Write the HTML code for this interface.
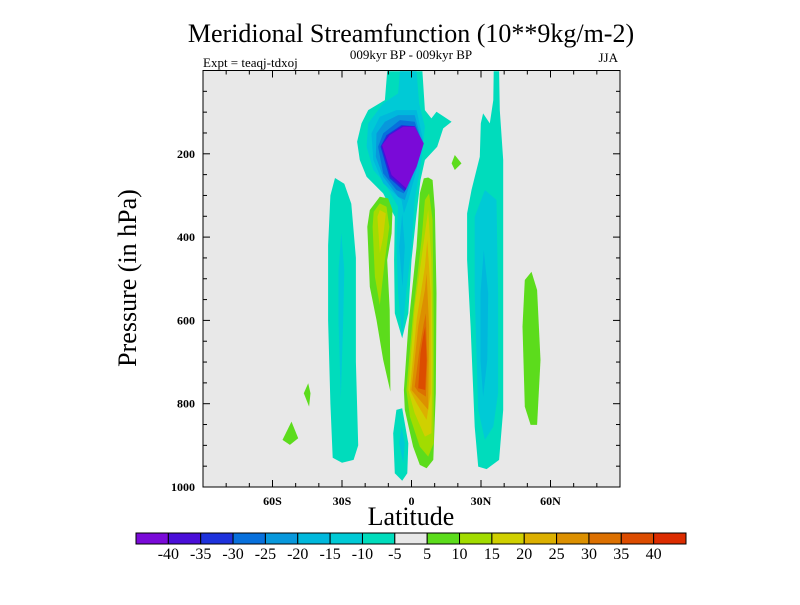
<!DOCTYPE html>
<html><head><meta charset="utf-8"><style>
body{margin:0;background:#fff;width:800px;height:600px;overflow:hidden}
svg text{font-family:"Liberation Serif",serif}
</style></head><body>
<svg id="chart" width="800" height="600" xmlns="http://www.w3.org/2000/svg">
<text x="411" y="42" font-size="26" text-anchor="middle">Meridional Streamfunction (10**9kg/m-2)</text>
<text x="411" y="59" font-size="13" text-anchor="middle">009kyr BP - 009kyr BP</text>
<text x="203" y="67" font-size="13">Expt = teaqj-tdxoj</text>
<text x="618" y="62" font-size="13" text-anchor="end">JJA</text>
<text transform="translate(136,278) rotate(-90)" font-size="26" text-anchor="middle">Pressure (in hPa)</text>
<text x="411" y="525" font-size="26" text-anchor="middle">Latitude</text>
<g id="plot"></g>
<g id="cbar"></g>
</svg>
<script>
const colors=["#7a0ad8","#4a0ed8","#1e32dc","#0870dc","#0898dc","#00b8dc","#00cad6","#00dcbc","#e8e8e8","#5cdc1c","#a2dc00","#d0d000","#dcb000","#dc9000","#dc7000","#dc4c00","#dc2c00"];
const cbarLabels=["-40","-35","-30","-25","-20","-15","-10","-5","5","10","15","20","25","30","35","40"];
const xTicks=[-60,-30,0,30,60];
const xTickLabels=["60S","30S","0","30N","60N"];
const yTicks=[200,400,600,800,1000];
// contour regions: level index into colors, points [lat, pressure]
const levels=[7,6, 7,6,5,5,4,3,2,1,0, 9,10,11, 9,10,11,12,13,14,15, 7,6, 7,6,5, 9,9,9,9];
const shapes=[
[[-33,258],[-29,272],[-26,320],[-24,450],[-24,700],[-23,900],[-25,935],[-30,942],[-34,930],[-35,800],[-36,600],[-36,420],[-35,300]],
[[-30.3,390],[-29,480],[-29.5,600],[-30.5,790],[-31.5,600],[-31.5,480]],
[[-10.5,2],[4.7,2],[5.8,95],[8.6,115],[10.8,99],[17.3,123],[13.7,139],[11.1,183],[5.8,215],[3.9,263],[2.2,343],[0,455],[-1.4,583],[-4,643],[-7.2,583],[-7.5,455],[-7.2,351],[-12.2,295],[-19.4,255],[-22.3,215],[-23.5,171],[-21.6,127],[-18.7,95],[-11.5,71]],
[[-5,2],[2.2,2],[3.3,79],[5.8,135],[4.3,215],[1.4,311],[0,423],[-2.2,527],[-4,639],[-5.8,535],[-6.5,415],[-5.8,327],[-11.5,271],[-16.5,239],[-19.4,183],[-18.7,127],[-12.2,79],[-5.8,55]],
[[-6.5,95],[2.2,95],[5,167],[2.2,239],[-1.4,311],[-3.3,343],[-4.3,311],[-12.2,271],[-16.5,215],[-17.3,151],[-13.7,111]],
[[-4,343],[-2.9,423],[-3.9,519],[-5.3,423]],
[[-5.8,107],[1.4,107],[4.3,167],[0.7,247],[-2.9,311],[-5.8,303],[-12.2,255],[-15.4,207],[-15.1,151],[-11.5,123]],
[[-5,119],[1.4,123],[4.3,171],[0.7,239],[-3.3,295],[-6.5,287],[-12.2,247],[-14.4,183],[-12.2,151]],
[[-4.3,131],[1.4,134],[5,175],[1.4,231],[-2.9,291],[-9.4,259],[-13.4,183],[-10.8,155]],
[[-3.8,133],[1.4,134],[5.2,175],[1.8,231],[-2.5,287],[-9,255],[-13,181],[-10,155]],
[[-3.6,135],[1.4,135],[5.3,175],[2.2,231],[-2.2,283],[-8.6,251],[-12.7,179],[-9.4,155]],
[[-13.7,303],[-10.1,307],[-8.2,335],[-8.6,391],[-10.5,455],[-9.4,575],[-9.1,771],[-12.2,695],[-15.1,599],[-18,519],[-19.1,375],[-18,335]],
[[-13.7,319],[-10.8,327],[-9.6,375],[-11.5,455],[-13.7,563],[-15.8,495],[-16.8,375],[-16.3,339]],
[[-13.7,335],[-11.1,343],[-12.2,399],[-13.7,439],[-14.4,375],[-14.7,351]],
[[7.2,257],[9.1,263],[10.1,335],[10.8,535],[10.5,775],[9.4,935],[6.5,955],[3.6,947],[0.7,903],[-2.9,815],[-3.3,767],[-1.4,615],[2.2,423],[3.6,295],[5.3,259]],
[[7.6,295],[9.1,359],[9.6,615],[9.6,895],[7.2,927],[3.6,903],[-0.7,831],[-2.2,767],[0.7,583],[4.3,407],[5.8,311]],
[[7.2,335],[8.6,455],[9.1,695],[8.6,871],[5.8,879],[1.4,823],[-1.4,767],[1.4,567],[5,423]],
[[6.8,407],[8.3,535],[8.3,775],[6.5,839],[2.2,799],[-0.7,767],[2.2,599],[5.8,471]],
[[6.5,487],[7.6,615],[7.2,815],[3.6,791],[0,767],[2.9,615],[5.8,527]],
[[6.2,583],[6.8,695],[6.2,783],[2.9,771],[1.4,759],[3.6,663],[5.3,607]],
[[5.9,615],[6.5,695],[5.9,767],[2.9,763],[3.9,679],[5,639]],
[[-6.5,815],[-4,811],[-1.4,895],[-1.8,967],[-4,985],[-7.2,967],[-7.9,871]],
[[-4.3,855],[-2.9,895],[-3.6,943],[-5.3,895]],
[[35.5,2],[37.8,2],[38.1,95],[39.6,215],[39.6,455],[39.6,815],[37.8,935],[32.4,957],[28.8,951],[27.3,855],[25.5,615],[24,455],[24,343],[25.9,287],[29.5,207],[29.9,127],[30.9,103],[33.8,127],[35.3,71]],
[[31.7,287],[36.7,311],[37.4,535],[37.4,775],[35.3,855],[31.7,887],[28.8,815],[27.3,535],[27.3,351]],
[[31.2,431],[33.1,535],[32.7,695],[30.9,783],[29.8,695],[29.8,535]],
[[51.8,483],[54.2,527],[55.7,695],[54.2,851],[51.4,851],[48.9,807],[47.9,615],[48.9,503]],
[[18.7,203],[21.6,223],[18.7,239],[17.3,223]],
[[-44.6,751],[-43.6,775],[-44.2,807],[-46.5,775]],
[[-51.8,843],[-48.9,883],[-52.5,899],[-55.7,887]]
];
const X0=203,X1=620,Y0=70.5,Y1=487;
function xs(lat){return X0+(lat+90)/180*(X1-X0);}
function ys(p){return Y0+p/1000*(Y1-Y0);}
const NS="http://www.w3.org/2000/svg";
function mk(tag,attrs,parent){const e=document.createElementNS(NS,tag);for(const k in attrs)e.setAttribute(k,attrs[k]);parent.appendChild(e);return e;}
const plot=document.getElementById('plot');
const bg=mk('rect',{x:X0,y:Y0,width:X1-X0,height:Y1-Y0,fill:colors[8]},plot);


shapes.forEach((s,i)=>{
  const pts=s.map(q=>xs(q[0]).toFixed(1)+","+ys(q[1]).toFixed(1)).join(" ");
  const pg=mk('polygon',{points:pts,fill:colors[levels[i]]},plot);
  
  
});
const frame=mk('rect',{x:X0,y:Y0,width:X1-X0,height:Y1-Y0,fill:'none',stroke:'#000','stroke-width':1},plot);


for(let lat=-80;lat<=80;lat+=10){
  const major=xTicks.includes(lat);const L=major?7:4;const x=xs(lat);
  const t1=mk('line',{x1:x,x2:x,y1:Y1,y2:Y1-L,stroke:'#000'},plot);
  
  
  const t2=mk('line',{x1:x,x2:x,y1:Y0,y2:Y0+L,stroke:'#000'},plot);
  
  
}
xTicks.forEach((v,i)=>{
  const t=mk('text',{x:xs(v),y:Y1+18,'font-size':12,'font-weight':'bold','text-anchor':'middle'},plot);
  t.textContent=xTickLabels[i];
  
  
});
for(let p=50;p<1000;p+=50){
  const major=yTicks.includes(p);const L=major?7:4;const y=ys(p);
  const t1=mk('line',{x1:X0,x2:X0+L,y1:y,y2:y,stroke:'#000'},plot);
  
  
  const t2=mk('line',{x1:X1,x2:X1-L,y1:y,y2:y,stroke:'#000'},plot);
  
  
}
yTicks.forEach(v=>{
  const t=mk('text',{x:X0-8,y:ys(v)+4,'font-size':12,'font-weight':'bold','text-anchor':'end'},plot);
  t.textContent=String(v);
  
  
});
const cb=document.getElementById('cbar');
const CX0=136,CX1=686,CY=533,CH=11,bw=(CX1-CX0)/colors.length;
colors.forEach((c,i)=>{
  const r=mk('rect',{x:CX0+i*bw,y:CY,width:bw,height:CH,fill:c,stroke:'#000','stroke-width':1},cb);
  
  
});
cbarLabels.forEach((l,i)=>{
  const t=mk('text',{x:CX0+(i+1)*bw,y:CY+CH+15,'font-size':16,'text-anchor':'middle'},cb);
  t.textContent=l;
  
  
});
</script>
</body></html>
